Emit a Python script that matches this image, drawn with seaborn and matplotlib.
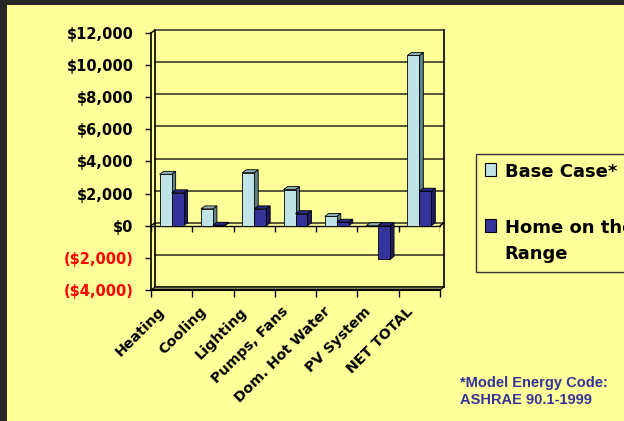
import matplotlib
matplotlib.use("Agg")
import matplotlib.pyplot as plt
from matplotlib.patches import Rectangle, Polygon, Patch
from matplotlib.transforms import ScaledTranslation
import numpy as np
import pandas as pd
import seaborn as sns

# ---- data ----
categories = ["Heating", "Cooling", "Lighting", "Pumps, Fans",
              "Dom. Hot Water", "PV System", "NET TOTAL"]
series_names = ["Base Case*", "Home on the\nRange"]
base_case = [3200, 1050, 3300, 2250, 580, 0, 10600]
home_on_range = [2050, 30, 1050, 750, 220, -2100, 2150]
y_ticks = [-4000, -2000, 0, 2000, 4000, 6000, 8000, 10000, 12000]
y_tick_labels = ["($4,000)", "($2,000)", "$0", "$2,000", "$4,000",
                 "$6,000", "$8,000", "$10,000", "$12,000"]
footnote = "*Model Energy Code:\nASHRAE 90.1-1999"

# ---- style ----
BG = "#FFFF99"
DARK = "#262626"
front_cols = ["#BFE3E6", "#333399"]
side_cols = ["#5F8084", "#1C1C5E"]
top_cols = ["#8DB0B3", "#2A2A85"]

W, H = 624, 421
fig = plt.figure(figsize=(W / 100, H / 100), dpi=100)
fig.patch.set_facecolor(DARK)
fig.patches.append(Rectangle((7 / W, 0), 1, 1 - 5 / H, transform=fig.transFigure,
                             facecolor=BG, edgecolor="none", zorder=-5))

ax_l, ax_r, ax_b, ax_t = 151, 440, 290, 33
ax = fig.add_axes([ax_l / W, 1 - ax_b / H, (ax_r - ax_l) / W, (ax_b - ax_t) / H])
ax.set_zorder(1)
ax.set_facecolor("none")

df = pd.DataFrame({
    "category": categories * 2,
    "series": [series_names[0]] * len(categories) + [series_names[1]] * len(categories),
    "value": base_case + home_on_range,
})
sns.barplot(data=df, x="category", y="value", hue="series", palette=front_cols,
            width=0.58, dodge=True, ax=ax, edgecolor="black", linewidth=0.6,
            legend=False, saturation=1)

xmin, xmax = -0.5, len(categories) - 0.5
ymin, ymax = y_ticks[0], y_ticks[-1]
ax.set_xlim(xmin, xmax)
ax.set_ylim(ymin, ymax)

# 3D depth offset (pixels -> axes fraction -> data)
off_px_x, off_px_y = 4, 3
dxa = off_px_x / (ax_r - ax_l)
dya = off_px_y / (ax_b - ax_t)
ddx = dxa * (xmax - xmin)
ddy = dya * (ymax - ymin)

for si, cont in enumerate(ax.containers):
    for p in cont.patches:
        x0, w = p.get_x(), p.get_width()
        y0, h = p.get_y(), p.get_height()
        top, bot = max(y0, y0 + h), min(y0, y0 + h)
        z = 3 + si
        p.set_zorder(z)
        side = Polygon([(x0 + w, bot), (x0 + w + ddx, bot + ddy),
                        (x0 + w + ddx, top + ddy), (x0 + w, top)],
                       closed=True, facecolor=side_cols[si], edgecolor="black",
                       linewidth=0.6, zorder=z - 0.1)
        topf = Polygon([(x0, top), (x0 + ddx, top + ddy),
                        (x0 + w + ddx, top + ddy), (x0 + w, top)],
                       closed=True, facecolor=top_cols[si], edgecolor="black",
                       linewidth=0.6, zorder=z - 0.1)
        ax.add_patch(side)
        ax.add_patch(topf)

# back wall & gridlines (offset)
for v in y_ticks:
    ya = (v - ymin) / (ymax - ymin)
    ax.plot([dxa, 1 + dxa], [ya + dya, ya + dya], transform=ax.transAxes,
            color="#3a3a2a", lw=1.2, zorder=1, clip_on=False)
ax.plot([dxa, dxa], [dya, 1 + dya], transform=ax.transAxes, color="black",
        lw=1.2, zorder=1, clip_on=False)
ax.plot([1 + dxa, 1 + dxa], [dya, 1 + dya], transform=ax.transAxes, color="black",
        lw=1.2, zorder=1, clip_on=False)
# floor at zero (front edge + connector)
za = (0 - ymin) / (ymax - ymin)
ax.plot([0, 1], [za, za], transform=ax.transAxes, color="black", lw=1.0,
        zorder=2, clip_on=False)
ax.plot([0, dxa], [za, za + dya], transform=ax.transAxes, color="black", lw=1.0,
        zorder=2, clip_on=False)
ax.plot([1, 1 + dxa], [za, za + dya], transform=ax.transAxes, color="black", lw=1.0,
        zorder=2, clip_on=False)
# bottom floor
ax.fill([0, 1, 1 + dxa, dxa], [0, 0, dya, dya], transform=ax.transAxes,
        facecolor="#8a8a60", edgecolor="black", lw=0.8, zorder=1.5, clip_on=False)
ax.plot([0, dxa], [1, 1 + dya], transform=ax.transAxes, color="black", lw=1.0,
        zorder=2, clip_on=False)

# spines
for s in ["top", "right"]:
    ax.spines[s].set_visible(False)
ax.spines["left"].set_linewidth(1.2)
ax.spines["bottom"].set_linewidth(1.5)

# y ticks
ax.set_yticks(y_ticks)
ax.set_yticklabels(y_tick_labels)
ax.tick_params(axis="y", direction="out", length=4, width=1, pad=8.5,
               labelsize=10.5)
for lab, v in zip(ax.get_yticklabels(), y_ticks):
    lab.set_fontweight("bold")
    lab.set_color("#FF0000" if v < 0 else "black")

# x ticks: labels at centers, tick marks at boundaries
bounds = np.arange(xmin, xmax + 1)
ax.set_xticks(bounds, minor=True)
ax.set_xticks(range(len(categories)))
ax.set_xticklabels(categories, rotation=45, ha="right", va="center",
                   rotation_mode="anchor", fontsize=10.3, fontweight="bold")
ax.tick_params(axis="x", which="major", length=0, pad=14)
ax.tick_params(axis="x", which="minor", direction="out", length=5, width=1)
shift = ScaledTranslation(-9 / 100, 0, fig.dpi_scale_trans)
for lab in ax.get_xticklabels():
    lab.set_transform(lab.get_transform() + shift)
# tick marks at the zero floor
tick_len = 6 / (ax_b - ax_t) * (ymax - ymin)
ax.vlines(bounds, -tick_len, 0, colors="black", lw=1, zorder=2)
ax.set_xlabel("")
ax.set_ylabel("")

# legend
handles = [Patch(facecolor=front_cols[i], edgecolor="black", linewidth=0.8,
                 label=series_names[i]) for i in range(2)]
leg = fig.legend(handles=handles, loc="upper left",
                 bbox_to_anchor=(476 / W, 1 - 154 / H), frameon=True,
                 fancybox=False, edgecolor="#333333", facecolor=BG, framealpha=1,
                 prop={"weight": "bold", "size": 13}, handlelength=0.58,
                 handleheight=0.72, labelspacing=2.1, borderpad=0.5,
                 handletextpad=0.5, borderaxespad=0)
leg.get_frame().set_linewidth(1.0)
for t in leg.get_texts():
    t.set_linespacing(1.6)
for col in leg._legend_handle_box.get_children():
    for hp in col.get_children():
        hp.align = "top"

fig.text(460 / W, 1 - 376 / H, footnote, family="Liberation Sans",
         weight="bold", fontsize=10.5, color="#333399", va="top", ha="left",
         linespacing=1.25)

fig.savefig("out.png", dpi=100, facecolor=fig.get_facecolor())
